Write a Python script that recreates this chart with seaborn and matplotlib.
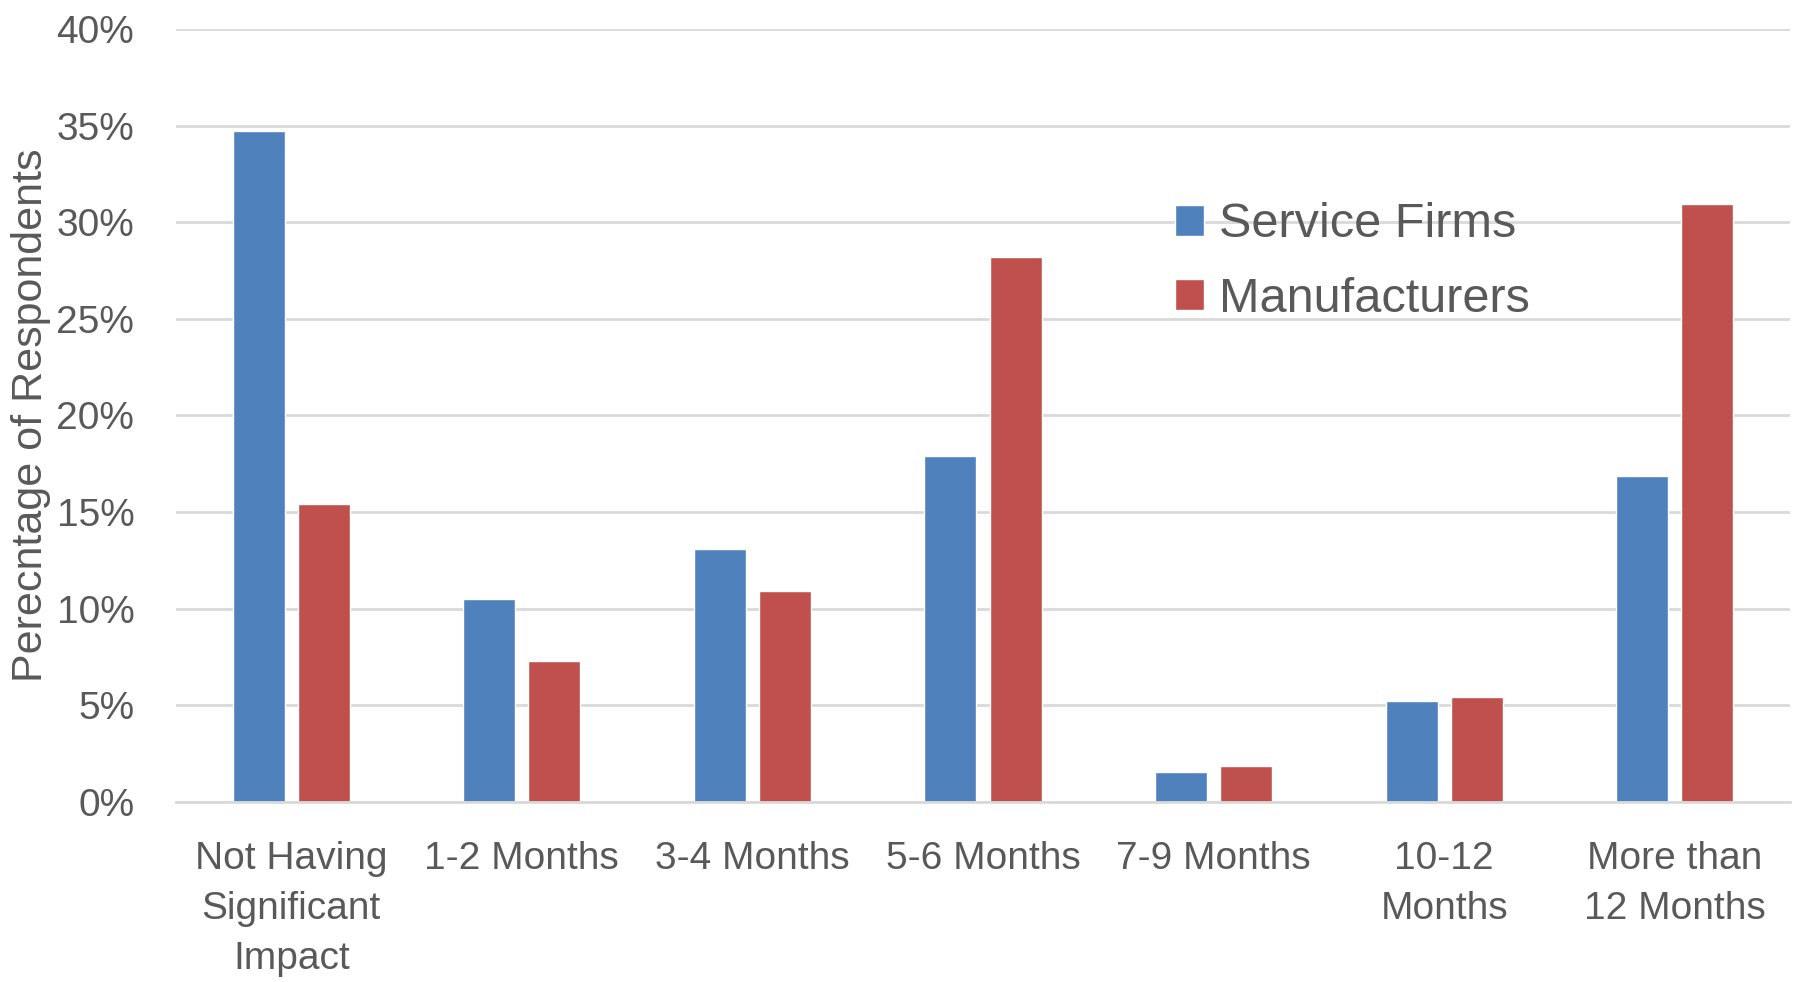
import numpy as np
import matplotlib.pyplot as plt
import pandas as pd
import seaborn as sns

categories = ["Not Having\nSignificant\nImpact", "1-2 Months", "3-4 Months", "5-6 Months",
              "7-9 Months", "10-12\nMonths", "More than\n12 Months"]
service_firms = [34.7, 10.5, 13.1, 17.9, 1.55, 5.25, 16.85]
manufacturers = [15.4, 7.3, 10.9, 28.2, 1.85, 5.45, 30.95]
series_names = ["Service Firms", "Manufacturers"]
y_ticks = [0, 5, 10, 15, 20, 25, 30, 35, 40]

sns.set_style("white")
plt.rcParams['font.family'] = ['Liberation Sans', 'DejaVu Sans']
TEXT = '#595959'

df = pd.DataFrame({
    "category": categories * 2,
    "value": service_firms + manufacturers,
    "series": [series_names[0]] * len(categories) + [series_names[1]] * len(categories),
})

fig = plt.figure(figsize=(17.94, 9.82), dpi=100)
ax = fig.add_axes([176 / 1794, 1 - 802 / 982, (1790 - 176) / 1794, (802 - 29) / 982])

sns.barplot(data=df, x="category", y="value", hue="series", order=categories,
            palette=["#4F81BD", "#C0504D"], width=0.564, gap=0.2,
            saturation=1, ax=ax, legend=True)

ax.set_xlim(-0.5, len(categories) - 0.5)
ax.set_ylim(0, 40)
ax.set_yticks(y_ticks)
ax.set_yticklabels([f"{t}%" for t in y_ticks])
ax.yaxis.grid(True, color='#d9d9d9', linewidth=2)
ax.set_axisbelow(True)
for s in ['top', 'right', 'left']:
    ax.spines[s].set_visible(False)
ax.spines['bottom'].set_color('#d9d9d9')
ax.spines['bottom'].set_linewidth(2)
ax.tick_params(axis='y', length=0, pad=30, labelsize=28, labelcolor=TEXT)
ax.tick_params(axis='x', length=0, pad=28, labelsize=28, labelcolor=TEXT)
for lab in ax.get_xticklabels():
    lab.set_linespacing(1.5)
ax.set_xlabel("")
ax.set_ylabel("Perecntage of Respondents", fontsize=31, color=TEXT)
ax.yaxis.set_label_coords(-125 / 1614, 0.5)

leg = ax.legend(loc='center left', bbox_to_anchor=(1175 / 1794, 1 - 262 / 982),
                bbox_transform=fig.transFigure, frameon=False, fontsize=35,
                handlelength=0.6, handleheight=0.6, handletextpad=0.3,
                labelspacing=0.6, borderpad=0, borderaxespad=0)
for t in leg.get_texts():
    t.set_color(TEXT)

fig.savefig("out.png", dpi=100)
